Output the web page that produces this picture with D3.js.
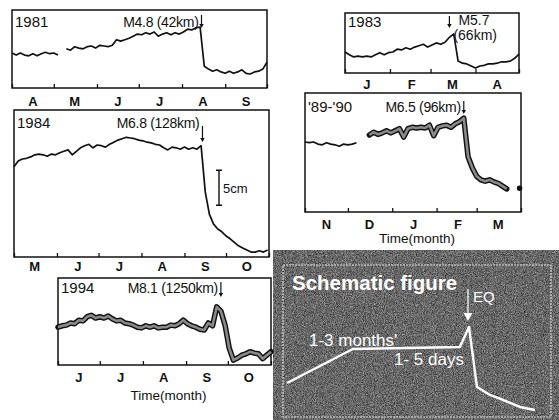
<!DOCTYPE html>
<html lang="en">
<head>
<meta charset="utf-8">
<title>Water level changes before earthquakes</title>
<script src="https://cdn.jsdelivr.net/npm/d3@7"></script>
<style>
  body { margin: 0; background: #fff; }
  svg { display: block; font-family: "Liberation Sans", Arial, Helvetica, sans-serif; }
</style>
</head>
<body>
<script>
var w = 559, h = 420;

// level in cm, one reading every 3 days from the first day of each panel
var level1981 = [5.0,4.7,5.0,4.7,4.6,4.9,4.6,4.9,5.1,4.9,5.0,4.7,
  null,
  5.6,5.4,5.9,5.7,5.6,5.9,6.0,5.7,6.1,6.0,5.9,6.1,
  6.9,6.7,6.9,7.1,7.4,7.7,7.6,7.9,7.7,8.0,7.4,7.7,7.9,7.6,7.9,7.7,8.0,
  8.4,8.3,8.6,8.7,
  3.1,2.7,2.4,2.6,2.3,2.1,2.4,2.1,2.3,2.6,2.1,2.0,2.3,2.4,2.7,3.7];
var level1983 = [3.0,2.6,2.3,2.4,2.3,2.4,2.3,2.6,2.9,2.6,2.9,3.0,
  3.4,3.3,3.6,3.4,3.7,3.9,4.1,3.7,4.0,4.3,4.1,4.4,5.1,5.6,
  1.7,1.4,1.3,1.0,0.7,1.0,1.1,1.3,1.3,1.4,1.6,1.6,1.7,2.1,2.7];
var level1984 = [12.9,13.7,14.0,14.1,14.3,14.6,14.7,14.6,14.4,14.7,14.6,14.9,15.1,15.3,14.6,15.1,
  15.6,15.9,16.1,15.6,16.0,15.9,15.7,16.1,16.4,16.7,16.9,17.1,17.0,16.9,16.7,16.6,
  16.4,16.3,16.1,16.0,15.6,15.3,15.7,15.6,15.4,15.7,15.4,15.6,15.4,15.9,
  9.3,6.1,4.7,4.0,3.6,3.0,2.6,2.1,1.6,1.3,1.0,0.7,0.7,0.9,0.7,1.0];
var level1990 = [10.0,9.9,10.0,9.7,9.6,9.9,9.7,9.6,9.4,9.7,9.6,9.7,9.9,
  null,null,
  11.0,11.4,11.1,11.3,11.6,11.3,11.6,11.9,10.7,11.9,12.1,12.0,12.1,12.0,12.4,10.9,12.1,12.3,12.4,12.1,12.6,12.9,13.4,
  7.9,6.3,5.1,4.6,4.4,4.6,4.3,4.1,3.7,3.3,
  null,null,3.4];
var level1994 = [5.4,5.6,5.7,6.0,5.9,6.4,6.3,6.9,7.1,6.7,6.9,6.7,7.0,6.6,6.3,6.4,
  6.0,5.9,5.7,5.4,5.3,5.6,5.4,5.6,5.3,5.4,5.4,5.7,5.6,5.9,6.4,5.9,
  5.6,5.4,5.1,5.0,6.0,5.6,8.3,7.7,5.7,2.4,
  0.7,1.0,1.4,1.6,1.9,1.7,1.6,0.9,1.4,1.9];

var months1981 = ["A","M","J","J","A","S"];
var months1983 = ["J","F","M","A"];
var months1984 = ["M","J","J","A","S","O"];
var months1990 = ["N","D","J","F","M"];
var months1994 = ["J","J","A","S","O"];

// schematic curve (arbitrary time / level units)
var schemTime  = [1.5, 26.1, 66.0, 69.4, 72.4, 77.2, 82.1, 88.4, 94.0];
var schemLevel = [22.4, 44.7, 46.1, 59.2, 19.7, 14.5, 11.2, 6.6, 4.6];

var step = 3; // days between readings

var panels = [
  {year: "1981", data: level1981, months: months1981, start: new Date(1981,3,1), end: new Date(1981,9,1),
   quake: new Date(1981,7,15), quakeText: "M4.8 (42km)", left: 12, top: 10, right: 267, bottom: 88,
   yMax: 11.14, bandFrom: Infinity, yearY: 27, arrow: [15, 28], monthY: 106},
  {year: "1983", data: level1983, months: months1983, start: new Date(1983,0,1), end: new Date(1983,4,1),
   quake: new Date(1983,2,14), quakeText: null, left: 345, top: 13, right: 519, bottom: 73,
   yMax: 8.57, bandFrom: Infinity, yearY: 27, arrow: [16, 28], monthY: 89},
  {year: "1984", data: level1984, months: months1984, start: new Date(1984,4,1), end: new Date(1984,10,1),
   quake: new Date(1984,8,14), quakeText: "M6.8 (128km)", left: 14, top: 110, right: 269, bottom: 257,
   yMax: 21, bandFrom: Infinity, yearY: 128, arrow: [126, 142], monthY: 271},
  {year: "'89-'90", data: level1990, months: months1990, start: new Date(1989,10,1), end: new Date(1990,3,1),
   quake: new Date(1990,1,20), quakeText: "M6.5 (96km)", left: 305, top: 93, right: 521, bottom: 212,
   yMax: 17, bandFrom: 15, yearY: 112, arrow: [101, 114], monthY: 229, timeLabel: 243},
  {year: "1994", data: level1994, months: months1994, start: new Date(1994,5,1), end: new Date(1994,10,1),
   quake: new Date(1994,8,26), quakeText: "M8.1 (1250km)", left: 58, top: 278, right: 271, bottom: 365,
   yMax: 12.43, bandFrom: 0, yearY: 293, arrow: [282, 297], monthY: 382, timeLabel: 400}
];

var svg = d3.select("body").append("svg")
  .attr("width", w)
  .attr("height", h);

function arrowDown(g, ax, y1, y2, colour, head) {
  g.append("line")
    .attr("x1", ax).attr("x2", ax)
    .attr("y1", y1).attr("y2", y2 - head)
    .attr("stroke", colour).attr("stroke-width", 1.2);
  g.append("path")
    .attr("d", "M" + (ax - head * 0.55) + "," + (y2 - head) + "L" + (ax + head * 0.55) + "," + (y2 - head) + "L" + ax + "," + y2 + "Z")
    .attr("fill", colour);
}

// schematic figure (drawn first so the panels sit on top of its edge)
var defs = svg.append("defs");
var grain = defs.append("filter")
  .attr("id", "grain")
  .attr("x", 0).attr("y", 0).attr("width", "100%").attr("height", "100%")
  .attr("color-interpolation-filters", "sRGB");
grain.append("feTurbulence")
  .attr("type", "fractalNoise")
  .attr("baseFrequency", 1.1)
  .attr("numOctaves", 2)
  .attr("seed", 4);
grain.append("feColorMatrix")
  .attr("type", "matrix")
  .attr("values", "0.75 0 0 0 0.03  0.75 0 0 0 0.03  0.75 0 0 0 0.03  0 0 0 0 1");

var sg = svg.append("g");
sg.append("rect")
  .attr("x", 273).attr("y", 250).attr("width", w - 273).attr("height", h - 250)
  .attr("fill", "#5a5a5a")
  .attr("filter", "url(#grain)");
sg.append("rect")
  .attr("x", 283).attr("y", 265).attr("width", 268).attr("height", 152)
  .attr("fill", "none").attr("stroke", "#e0e0e0").attr("stroke-width", 1.1)
  .attr("stroke-dasharray", "2 1");

var sx = d3.scaleLinear().domain([0, 100]).range([283, 551]);
var sy = d3.scaleLinear().domain([0, 100]).range([417, 265]);

sg.append("path")
  .datum(schemTime.map(function(t, i) { return [t, schemLevel[i]]; }))
  .attr("d", d3.line().x(function(d) { return sx(d[0]); }).y(function(d) { return sy(d[1]); }))
  .attr("fill", "none").attr("stroke", "#fff").attr("stroke-width", 2.4)
  .attr("stroke-linejoin", "round");

arrowDown(sg, sx(schemTime[3]) - 1, 289, 321, "#fff", 8);

sg.append("text").attr("x", 292).attr("y", 290)
  .attr("font-size", "20.5px").attr("font-weight", "bold").attr("fill", "#fff")
  .text("Schematic figure");
sg.append("text").attr("x", 473).attr("y", 302)
  .attr("font-size", "15px").attr("fill", "#fff")
  .text("EQ");
sg.append("text").attr("x", 309).attr("y", 346)
  .attr("font-size", "17px").attr("fill", "#fff")
  .text("1-3 months'");
sg.append("text").attr("x", 394).attr("y", 365)
  .attr("font-size", "17px").attr("fill", "#fff")
  .text("1- 5 days");

panels.forEach(function(p) {
  var g = svg.append("g");

  var x = d3.scaleTime().domain([p.start, p.end]).range([p.left, p.right]);
  var y = d3.scaleLinear().domain([0, p.yMax]).range([p.bottom, p.top]);

  g.append("rect")
    .attr("x", p.left).attr("y", p.top)
    .attr("width", p.right - p.left).attr("height", p.bottom - p.top)
    .attr("fill", "none").attr("stroke", "#111").attr("stroke-width", 1.5);

  var axis = g.append("g")
    .attr("transform", "translate(0," + p.bottom + ")")
    .call(d3.axisBottom(x).ticks(d3.timeMonth.every(1)).tickSize(-4).tickFormat(""));
  axis.select(".domain").remove();
  axis.selectAll("line").attr("stroke", "#111").attr("stroke-width", 1.3);

  g.selectAll("text.month")
    .data(p.months)
    .enter()
    .append("text")
    .attr("class", "month")
    .attr("x", function(d, k) { return x(d3.timeDay.offset(d3.timeMonth.offset(p.start, k), 15)); })
    .attr("y", p.monthY)
    .attr("text-anchor", "middle")
    .attr("font-size", "13px")
    .attr("font-weight", "bold")
    .attr("fill", "#111")
    .text(function(d) { return d; });

  var line = d3.line()
    .defined(function(d) { return d != null; })
    .x(function(d, i) { return x(d3.timeDay.offset(p.start, i * step)); })
    .y(function(d) { return y(d); });

  var thin = p.data.map(function(d, i) { return i < p.bandFrom ? d : null; });
  var band = p.data.map(function(d, i) { return i >= p.bandFrom ? d : null; });

  g.append("path")
    .attr("d", line(thin))
    .attr("fill", "none")
    .attr("stroke", "#111")
    .attr("stroke-width", 1.7)
    .attr("stroke-linejoin", "round");

  if (p.bandFrom < p.data.length) {
    g.append("path")
      .attr("d", line(band))
      .attr("fill", "none")
      .attr("stroke", "#111")
      .attr("stroke-width", 5.5)
      .attr("stroke-linejoin", "round")
      .attr("stroke-linecap", "round");
    g.append("path")
      .attr("d", line(band))
      .attr("fill", "none")
      .attr("stroke", "#8a8a8a")
      .attr("stroke-width", 2.6)
      .attr("stroke-linejoin", "round");
  }

  g.append("text")
    .attr("x", p.left + 3).attr("y", p.yearY)
    .attr("font-size", "15px").attr("fill", "#111")
    .text(p.year);

  var ax = x(p.quake);
  arrowDown(g, ax, p.arrow[0], p.arrow[1], "#111", 4);

  if (p.quakeText) {
    g.append("text")
      .attr("x", ax - 3).attr("y", p.yearY)
      .attr("text-anchor", "end")
      .attr("font-size", "14px").attr("fill", "#111")
      .attr("letter-spacing", "-0.3px")
      .text(p.quakeText);
  } else {
    g.append("text").attr("x", ax + 9).attr("y", 25)
      .attr("font-size", "14px").attr("fill", "#111").text("M5.7");
    g.append("text").attr("x", ax + 4).attr("y", 40)
      .attr("font-size", "14px").attr("fill", "#111").text("(66km)");
  }

  if (p.timeLabel) {
    g.append("text")
      .attr("x", (p.left + p.right) / 2 + 4).attr("y", p.timeLabel)
      .attr("text-anchor", "middle")
      .attr("font-size", "13.5px").attr("fill", "#111")
      .text("Time(month)");
  }

  // 5 cm scale bar in the 1984 panel
  if (p.year === "1984") {
    var bx = 219, b0 = y(7.4), b1 = y(12.4);
    g.append("path")
      .attr("d", "M" + (bx - 3) + "," + b1 + "H" + (bx + 3) + "M" + bx + "," + b1 + "V" + b0 + "M" + (bx - 3) + "," + b0 + "H" + (bx + 3))
      .attr("stroke", "#111").attr("stroke-width", 1.4).attr("fill", "none");
    g.append("text")
      .attr("x", bx + 4).attr("y", (b0 + b1) / 2 + 5)
      .attr("font-size", "13px").attr("fill", "#111")
      .text("5cm");
  }
});
</script>
</body>
</html>
